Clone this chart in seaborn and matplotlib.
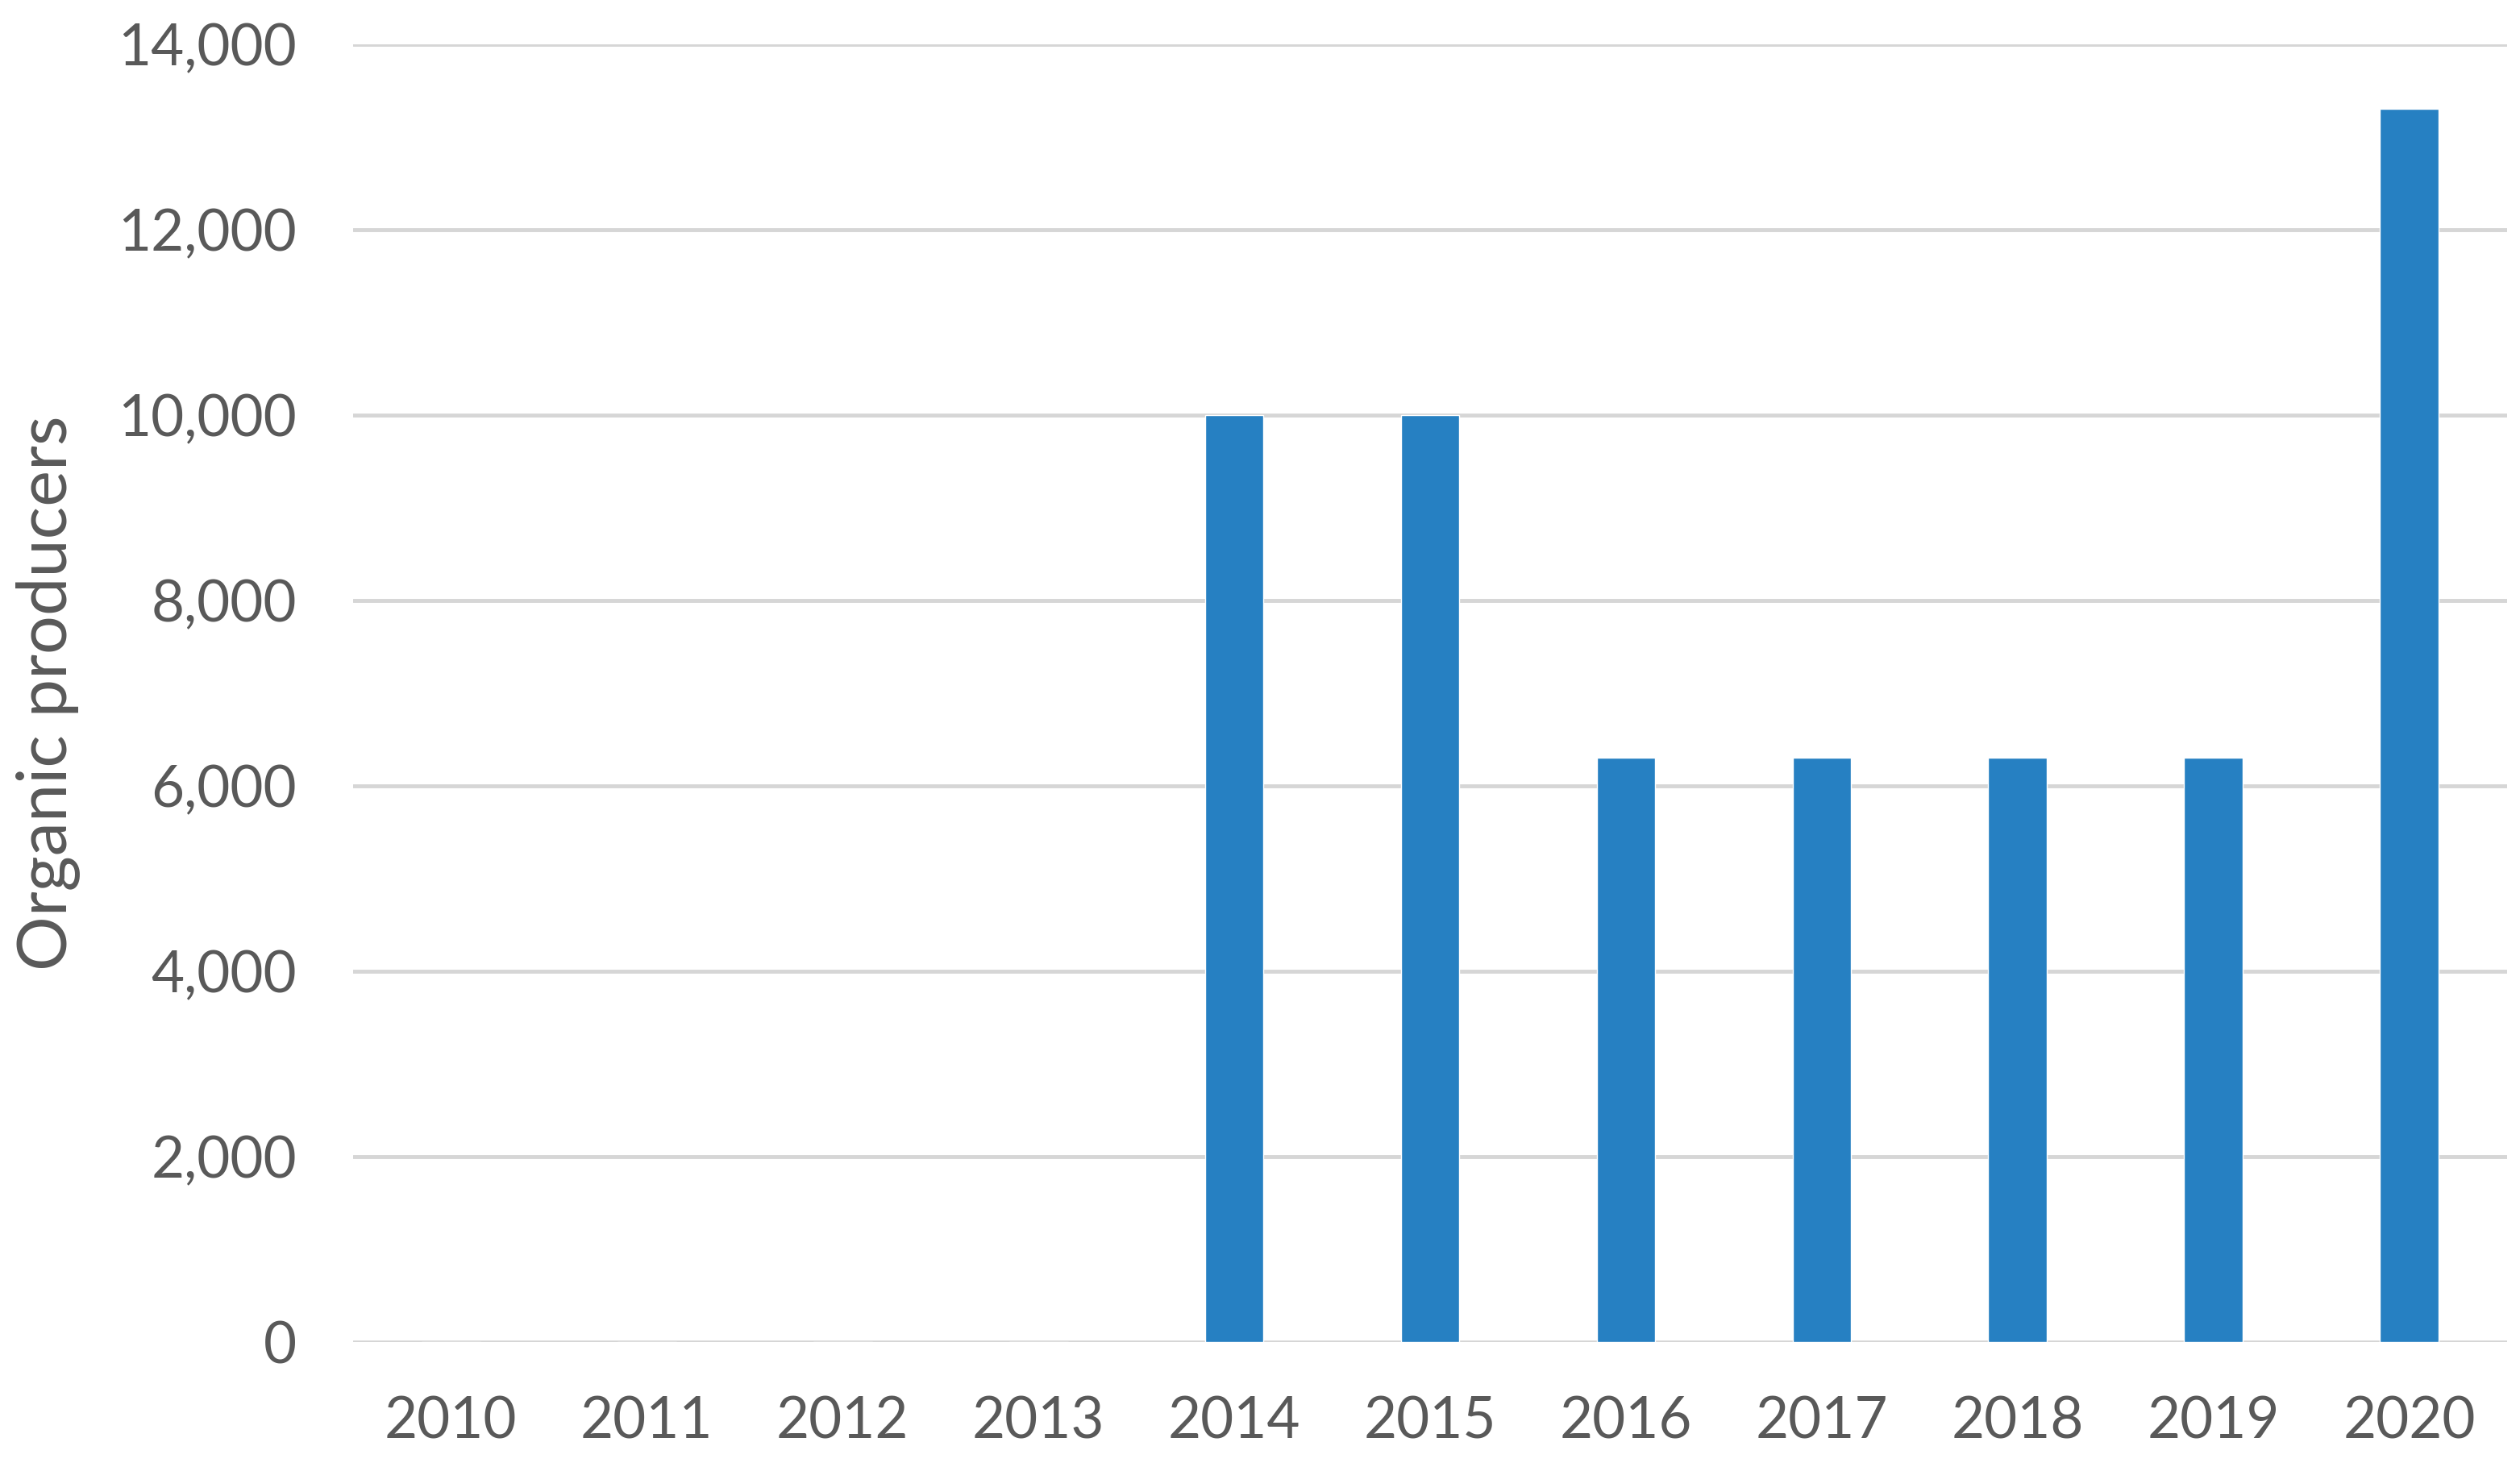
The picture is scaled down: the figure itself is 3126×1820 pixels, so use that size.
import matplotlib
matplotlib.use("Agg")
import matplotlib.pyplot as plt
import seaborn as sns
import pandas as pd
from matplotlib.ticker import FuncFormatter

years = ["2010", "2011", "2012", "2013", "2014", "2015",
         "2016", "2017", "2018", "2019", "2020"]
producers = [0, 0, 0, 0, 10000, 10000, 6300, 6300, 6300, 6300, 13300]

df = pd.DataFrame({"year": years, "producers": producers})

sns.set_style("white")
plt.rcParams["font.family"] = ["Lato", "DejaVu Sans"]

text_col = "#595959"

fig = plt.figure(figsize=(31.26, 18.2), dpi=100)
ax = fig.add_axes([0.140, 0.0852, 0.855, 0.8846])

sns.barplot(data=df, x="year", y="producers", color="#2680C2",
            width=0.30, saturation=1, ax=ax, zorder=3)

ax.set_ylim(0, 14000)
ax.set_yticks(range(0, 14001, 2000))
ax.yaxis.set_major_formatter(FuncFormatter(lambda v, p: f"{int(v):,}"))
ax.set_xlim(-0.5, len(years) - 0.5)

ax.grid(axis="y", color="#d6d6d6", linewidth=3.5, zorder=0)
ax.grid(axis="x", visible=False)
for s in ax.spines.values():
    s.set_visible(False)

ax.tick_params(axis="both", length=0, labelsize=51, labelcolor=text_col)
ax.tick_params(axis="y", pad=50)
ax.tick_params(axis="x", pad=48)
ax.set_xlabel("")
ax.set_ylabel("Organic producers", fontsize=61, color=text_col, labelpad=34)

fig.savefig("out.png", dpi=100, facecolor="white")
